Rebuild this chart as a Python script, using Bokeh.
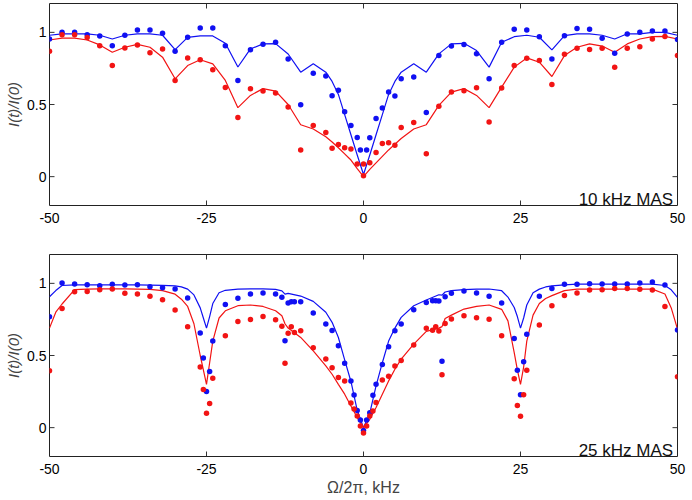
from bokeh.plotting import figure
from bokeh.models import FixedTicker, Range1d, Label
from bokeh.layouts import column
from bokeh.embed import file_html
from bokeh.resources import INLINE

# ---------------- data: 10 kHz MAS (top panel) ----------------
top_blue_x = [-50, -48, -46, -44, -42, -40, -38, -36, -34, -32, -30, -28, -26, -24, -22, -20,
              -18, -16, -14, -12, -10, -8, -6, -5, -4, -3, -2, -1, -0.5, 0.5, 1, 2, 3, 4, 5, 6,
              8, 10, 12, 14, 16, 18, 20, 22, 24, 26, 28, 30, 32, 34, 36, 38, 40, 42, 44, 46, 48, 50]
top_blue_y = [0.954, 1.0, 1.0, 0.984, 0.975, 0.908, 0.98, 1.016, 1.016, 0.993, 0.869, 0.966, 1.03,
              1.03, 0.908, 0.667, 0.879, 0.917, 0.931, 0.816, 0.499, 0.717, 0.697, 0.56, 0.598,
              0.45, 0.355, 0.272, 0.184, 0.184, 0.269, 0.403, 0.476, 0.586, 0.559, 0.678, 0.69,
              0.444, 0.839, 0.906, 0.915, 0.851, 0.678, 0.931, 1.021, 1.016, 0.97, 0.816, 0.977,
              1.026, 1.021, 0.959, 0.855, 0.989, 1.0, 1.01, 1.01, 0.95]

top_red_x = [-50, -48, -46, -44, -42, -40, -38, -36, -34, -32, -30, -28, -26, -24, -22, -20,
             -18, -16, -14, -12, -10, -8, -6, -5, -4, -3, -2, -1, 0, 0, 1, 2, 3, 4, 5, 6,
             8, 10, 12, 14, 16, 18, 20, 22, 24, 26, 28, 30, 32, 34, 36, 38, 40, 42, 44, 46, 48, 50]
top_red_y = [0.869, 0.984, 0.984, 0.965, 0.908, 0.77, 0.892, 0.913, 0.858, 0.885, 0.667, 0.823,
             0.81, 0.741, 0.617, 0.41, 0.61, 0.593, 0.58, 0.483, 0.184, 0.354, 0.306, 0.196,
             0.223, 0.2, 0.191, 0.088, 0.088, 0.007, 0.097, 0.168, 0.23, 0.235, 0.218, 0.34,
             0.375, 0.159, 0.488, 0.586, 0.596, 0.616, 0.379, 0.614, 0.77, 0.821, 0.805, 0.639,
             0.848, 0.89, 0.881, 0.89, 0.759, 0.89, 0.901, 0.954, 0.972, 0.839]

top_line_x = [-50, -48, -46, -44, -42, -40, -38, -36, -34, -32, -30, -28, -26, -24, -22, -20,
              -18, -16, -14, -12, -10, -8, -6, -5, -4, -3, -2, -1, 0, 1, 2, 3, 4, 5, 6,
              8, 10, 12, 14, 16, 18, 20, 22, 24, 26, 28, 30, 32, 34, 36, 38, 40, 42, 44, 46, 48, 50]
top_blue_line = [0.98, 0.99, 0.99, 0.99, 0.98, 0.954, 0.98, 0.99, 0.99, 0.98, 0.88, 0.965, 0.975,
                 0.975, 0.925, 0.76, 0.885, 0.92, 0.922, 0.85, 0.724, 0.782, 0.724, 0.66, 0.57,
                 0.43, 0.29, 0.15, 0.015, 0.15, 0.29, 0.43, 0.57, 0.66, 0.724, 0.782, 0.724,
                 0.851, 0.92, 0.924, 0.874, 0.759, 0.931, 0.97, 0.98, 0.966, 0.879, 0.977, 0.99,
                 0.99, 0.98, 0.954, 0.99, 0.99, 1.0, 1.0, 0.98]
top_red_line = [0.947, 0.96, 0.96, 0.947, 0.913, 0.862, 0.897, 0.917, 0.897, 0.828, 0.678, 0.77,
                0.81, 0.782, 0.667, 0.478, 0.563, 0.61, 0.593, 0.5, 0.36, 0.33, 0.276, 0.24, 0.2,
                0.158, 0.115, 0.055, 0.0, 0.05, 0.095, 0.14, 0.185, 0.225, 0.264, 0.33, 0.36,
                0.494, 0.586, 0.61, 0.563, 0.478, 0.62, 0.759, 0.823, 0.793, 0.694, 0.839, 0.897,
                0.92, 0.905, 0.862, 0.92, 0.954, 0.97, 0.972, 0.954]

# ---------------- data: 25 kHz MAS (bottom panel) ----------------
bot_exp_x = [-50, -48, -46, -44, -42, -40, -38, -36, -34, -32, -30, -28, -26, -25.5, -25, -24.5,
             -24, -22, -20, -18, -16, -14, -13, -12.5, -12, -11.5, -11, -10, -8, -6, -5, -4, -3,
             -2, -1.5, -1, -0.5, 0, 0.5, 1, 1.5, 2, 3, 4, 5, 6, 8, 10, 11, 11.5, 12, 12.5, 13,
             14, 16, 18, 20, 22, 24, 24.5, 25, 25.5, 26, 28, 30, 32, 34, 36, 38, 40, 42, 44, 46,
             48, 50]
bot_blue_y = [0.769, 1.003, 0.996, 0.991, 0.984, 0.993, 0.988, 0.991, 0.977, 0.97, 0.961, 0.898,
              0.656, 0.482, 0.25, 0.389, 0.6, 0.854, 0.896, 0.926, 0.933, 0.926, 0.903, 0.602,
              0.864, 0.873, 0.873, 0.873, 0.794, 0.718, 0.674, 0.567, 0.447, 0.324, 0.226, 0.118,
              0.053, -0.02, 0.053, 0.104, 0.225, 0.3, 0.437, 0.56, 0.671, 0.718, 0.817, 0.867,
              0.88, 0.88, 0.878, 0.461, 0.908, 0.931, 0.947, 0.933, 0.91, 0.864, 0.618, 0.398,
              0.228, 0.456, 0.648, 0.91, 0.965, 0.993, 0.993, 0.998, 0.995, 0.995, 0.995, 1.003,
              1.01, 0.989, 0.676]
bot_red_y = [0.394, 0.826, 0.942, 0.944, 0.956, 0.961, 0.931, 0.926, 0.91, 0.887, 0.815, 0.699,
             0.421, 0.264, 0.1, 0.167, 0.342, 0.637, 0.736, 0.75, 0.77, 0.747, 0.703, 0.447,
             0.654, 0.699, 0.66, 0.671, 0.553, 0.475, 0.415, 0.347, 0.324, 0.17, 0.13, 0.081,
             0.012, -0.037, 0.012, 0.081, 0.115, 0.174, 0.33, 0.357, 0.428, 0.466, 0.573, 0.688,
             0.675, 0.699, 0.67, 0.366, 0.722, 0.753, 0.776, 0.762, 0.751, 0.637, 0.338, 0.153,
             0.079, 0.228, 0.398, 0.712, 0.845, 0.915, 0.933, 0.954, 0.956, 0.965, 0.965, 0.96,
             0.954, 0.84, 0.352]

bot_line_x = [-50, -49, -48, -46, -44, -42, -40, -38, -36, -34, -32, -30, -29, -28, -27, -26,
              -25.5, -25, -24.5, -24, -23, -22, -20, -18, -16, -14, -13, -12.5, -12, -10, -8, -6,
              -5, -4, -3, -2, -1, 0, 1, 2, 3, 4, 5, 6, 8, 10, 12, 12.5, 13, 14, 16, 18, 20, 22,
              23, 24, 24.5, 25, 25.5, 26, 27, 28, 29, 30, 32, 34, 36, 38, 40, 42, 44, 46, 48, 49, 50]
bot_blue_line = [0.907, 0.95, 0.985, 0.99, 0.99, 0.99, 0.99, 0.99, 0.99, 0.988, 0.986, 0.982,
                 0.976, 0.96, 0.92, 0.83, 0.76, 0.69, 0.77, 0.86, 0.935, 0.952, 0.96, 0.962,
                 0.962, 0.958, 0.948, 0.925, 0.93, 0.912, 0.875, 0.8, 0.73, 0.625, 0.47, 0.32,
                 0.12, 0.0, 0.1, 0.29, 0.45, 0.6, 0.69, 0.764, 0.845, 0.885, 0.921, 0.918, 0.94,
                 0.95, 0.957, 0.96, 0.961, 0.949, 0.905, 0.833, 0.77, 0.69, 0.76, 0.85, 0.935,
                 0.96, 0.975, 0.982, 0.99, 0.995, 0.995, 0.995, 0.995, 0.995, 0.995, 0.995, 0.985,
                 0.955, 0.903]
bot_red_line = [0.69, 0.8, 0.857, 0.956, 0.96, 0.962, 0.962, 0.962, 0.96, 0.958, 0.95, 0.925,
                0.89, 0.84, 0.72, 0.5, 0.4, 0.3, 0.45, 0.6, 0.76, 0.81, 0.845, 0.85, 0.84, 0.81,
                0.775, 0.72, 0.69, 0.625, 0.532, 0.428, 0.37, 0.3, 0.232, 0.15, 0.07, 0.0, 0.058,
                0.139, 0.232, 0.324, 0.405, 0.475, 0.579, 0.667, 0.69, 0.7, 0.757, 0.78, 0.822,
                0.84, 0.85, 0.82, 0.74, 0.52, 0.4, 0.3, 0.42, 0.6, 0.78, 0.86, 0.895, 0.915, 0.95,
                0.96, 0.96, 0.96, 0.96, 0.96, 0.96, 0.96, 0.926, 0.83, 0.683]

x_ticks = [-50, -25, 0, 25, 50]
x_tick_labels = ["-50", "-25", "0", "25", "50"]
y_ticks = [0, 0.5, 1]
y_tick_labels = ["0", "0.5", "1"]
panel_titles = ["10 kHz MAS", "25 kHz MAS"]

X_MIN, X_MAX = -50, 50
Y_MIN, Y_MAX = -0.2, 1.2

BLUE = "#1010f2"
RED = "#f21414"
FONT = "Liberation Sans"
TICK_COLOR = "#333333"


def style_axis(ax, ticks, labels):
    ax.ticker = FixedTicker(ticks=ticks)
    ax.major_tick_in = 0
    ax.major_tick_out = 0
    ax.minor_tick_line_color = None
    ax.axis_line_color = None
    ax.major_label_overrides = {t: l for t, l in zip(ticks, labels)}
    ax.major_label_text_font = FONT
    ax.major_label_text_font_size = "14px"
    ax.major_label_text_color = "black"


def add_inward_ticks(p, frame_w, frame_h, tick_px=5):
    # tick lengths converted from pixels to data units
    dx = tick_px * (X_MAX - X_MIN) / frame_w
    dy = tick_px * (Y_MAX - Y_MIN) / frame_h
    inner_x = x_ticks[1:-1]
    p.segment(x0=inner_x, y0=[Y_MIN] * len(inner_x), x1=inner_x, y1=[Y_MIN + dy] * len(inner_x),
              line_color=TICK_COLOR, line_width=1)
    p.segment(x0=inner_x, y0=[Y_MAX] * len(inner_x), x1=inner_x, y1=[Y_MAX - dy] * len(inner_x),
              line_color=TICK_COLOR, line_width=1)
    p.segment(x0=[X_MIN] * len(y_ticks), y0=y_ticks, x1=[X_MIN + dx] * len(y_ticks), y1=y_ticks,
              line_color=TICK_COLOR, line_width=1)
    p.segment(x0=[X_MAX] * len(y_ticks), y0=y_ticks, x1=[X_MAX - dx] * len(y_ticks), y1=y_ticks,
              line_color=TICK_COLOR, line_width=1)


def make_panel(height, border_top, border_bottom, bx, by, rx, ry, lx, lb, lr, title, xlabel):
    p = figure(width=692, height=height, x_range=Range1d(X_MIN, X_MAX),
               y_range=Range1d(Y_MIN, Y_MAX),
               output_backend="svg", toolbar_location=None,
               min_border_left=49, min_border_right=15,
               min_border_top=border_top, min_border_bottom=border_bottom)
    p.grid.visible = False
    p.outline_line_color = "#222222"
    p.outline_line_width = 1
    p.background_fill_color = "white"
    p.border_fill_color = "white"

    style_axis(p.xaxis[0], x_ticks, x_tick_labels)
    style_axis(p.yaxis[0], y_ticks, y_tick_labels)
    p.xaxis[0].major_label_standoff = 7
    p.yaxis[0].major_label_standoff = 3
    p.yaxis[0].axis_label = "I(t)/I(0)"
    p.yaxis[0].axis_label_text_font = FONT
    p.yaxis[0].axis_label_text_font_size = "15px"
    p.yaxis[0].axis_label_text_font_style = "italic"
    p.yaxis[0].axis_label_standoff = 2
    if xlabel:
        p.xaxis[0].axis_label = xlabel
        p.xaxis[0].axis_label_text_font = FONT
        p.xaxis[0].axis_label_text_font_size = "16px"
        p.xaxis[0].axis_label_text_font_style = "normal"
        p.xaxis[0].axis_label_standoff = 2

    frame_w = 692 - 49 - 15
    frame_h = height - border_top - border_bottom
    add_inward_ticks(p, frame_w, frame_h)

    p.line(lx, lb, line_color=BLUE, line_width=1.2)
    p.line(lx, lr, line_color=RED, line_width=1.2)
    p.scatter(bx, by, size=5.5, marker="circle", fill_color=BLUE, line_color=None)
    p.scatter(rx, ry, size=5.5, marker="circle", fill_color=RED, line_color=None)

    p.add_layout(Label(x=49.3, y=-0.158, text=title, text_align="right",
                       text_baseline="alphabetic", text_font=FONT, text_font_size="17px",
                       text_color="#111111"))
    return p


p1 = make_panel(240, 3, 35, top_blue_x, top_blue_y, top_red_x, top_red_y,
                top_line_x, top_blue_line, top_red_line, panel_titles[0], None)
p2 = make_panel(259, 14, 43, bot_exp_x, bot_blue_y, bot_exp_x, bot_red_y,
                bot_line_x, bot_blue_line, bot_red_line, panel_titles[1], "Ω/2π, kHz")

layout = column(p1, p2, spacing=0)
open("out.html", "w").write(file_html(layout, INLINE))
